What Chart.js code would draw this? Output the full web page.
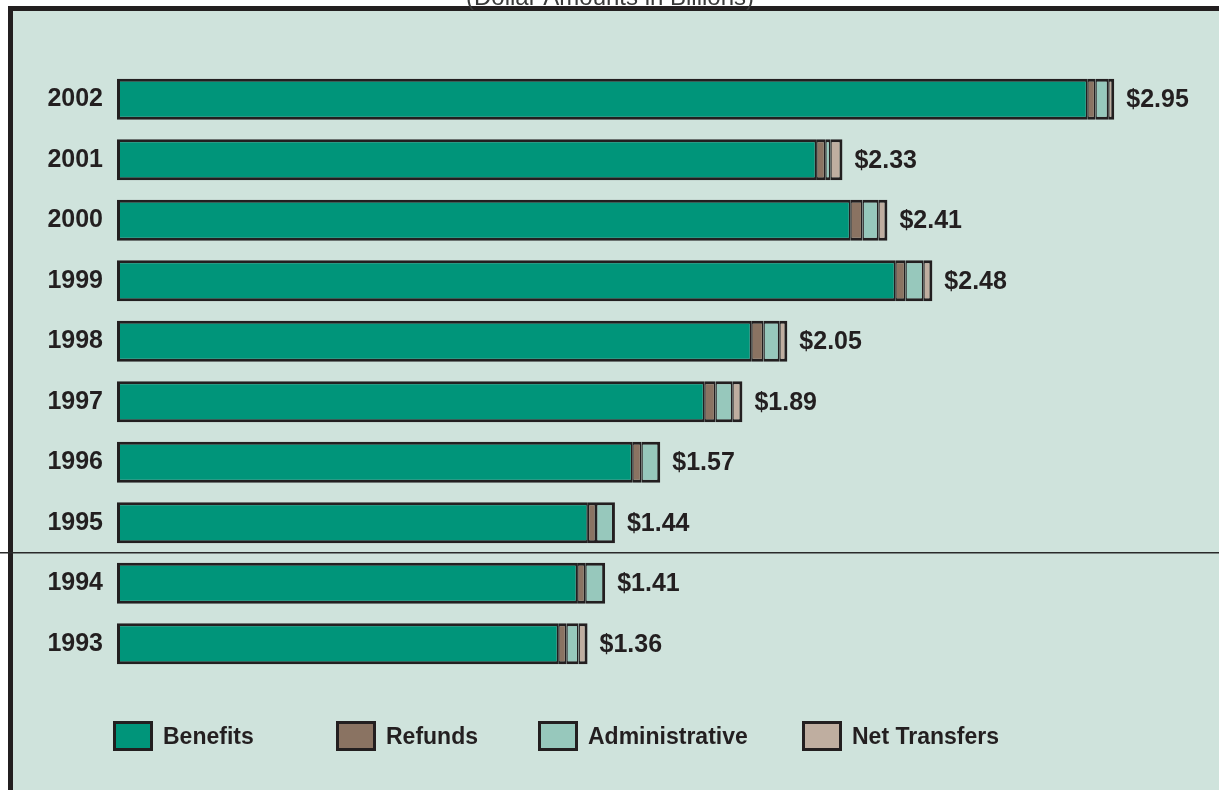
<!DOCTYPE html>
<html>
<head>
<meta charset="utf-8">
<script src="https://cdn.jsdelivr.net/npm/chart.js@4.4.0/dist/chart.umd.min.js"></script>
<style>
  html, body { margin: 0; padding: 0; background: #fff; }
  #wrap { position: relative; width: 1219px; height: 790px; overflow: hidden; }
  #main-chart { position: absolute; left: 0; top: 0; }
  .legend-item {
    position: absolute; top: 721px; height: 30px;
    display: flex; align-items: center;
    font: bold 23px "Liberation Sans", Arial, sans-serif; color: #231f20;
  }
  .legend-box { width: 34px; height: 24px; border: 3px solid #231f20; margin-right: 10px; }
</style>
</head>
<body>
<div id="wrap">
  <canvas id="main-chart" width="1219" height="790"></canvas>
  <div id="legend"></div>
</div>
<script>
(function () {
  "use strict";

  // values in $ billions
  const years = ["2002", "2001", "2000", "1999", "1998", "1997", "1996", "1995", "1994", "1993"];
  const benefits = [2.870, 2.068, 2.169, 2.302, 1.876, 1.737, 1.524, 1.393, 1.361, 1.305];
  const refunds = [0.024, 0.027, 0.036, 0.030, 0.036, 0.033, 0.027, 0.024, 0.024, 0.024];
  const administrative = [0.038, 0.015, 0.047, 0.053, 0.047, 0.050, 0.056, 0.056, 0.059, 0.036];
  const netTransfers = [0.018, 0.036, 0.027, 0.027, 0.024, 0.030, 0, 0, 0, 0.027];
  const totalLabels = ["$2.95", "$2.33", "$2.41", "$2.48", "$2.05", "$1.89", "$1.57", "$1.44", "$1.41", "$1.36"];
  const seriesNames = ["Benefits", "Refunds", "Administrative", "Net Transfers"];
  const seriesColors = ["#00957a", "#8a7362", "#97c8bc", "#bfaea0"];

  const FONT = '"Liberation Sans", Arial, sans-serif';
  const INK = "#231f20";
  const BG = "#cfe3dc";
  const legendLeft = [113, 336, 538, 802];

  const seriesData = [benefits, refunds, administrative, netTransfers];

  function isLastSegment(di, i) {
    for (let k = di + 1; k < seriesData.length; k++) {
      if (seriesData[k][i] > 0) return false;
    }
    return true;
  }

  const framePlugin = {
    id: "frame",
    beforeDraw(chart) {
      const c = chart.ctx;
      c.save();
      c.fillStyle = "#fff";
      c.fillRect(0, 0, chart.width, chart.height);
      c.fillStyle = INK;
      c.fillRect(8, 6, chart.width, chart.height);
      c.fillStyle = BG;
      c.fillRect(13, 11, chart.width, chart.height);
      c.fillStyle = "#3a3a3a";
      c.font = "24px " + FONT;
      c.textAlign = "center";
      c.textBaseline = "alphabetic";
      c.fillText("(Dollar Amounts in Billions)", 610, 5);
      c.restore();
    },
    afterDraw(chart) {
      const c = chart.ctx;
      c.save();
      c.fillStyle = "#2a2a2a";
      c.fillRect(0, 552, chart.width, 1.5);
      c.restore();
    },
  };

  const totalsPlugin = {
    id: "totals",
    afterDatasetsDraw(chart) {
      const c = chart.ctx;
      c.save();
      c.fillStyle = INK;
      c.font = "bold 25px " + FONT;
      c.textAlign = "left";
      c.textBaseline = "middle";
      years.forEach(function (y, i) {
        let right = 0;
        let mid = 0;
        chart.data.datasets.forEach(function (ds, di) {
          const bar = chart.getDatasetMeta(di).data[i];
          if (bar.x > right) right = bar.x;
          mid = bar.y;
        });
        c.fillText(totalLabels[i], right + 12, mid + 1);
      });
      c.restore();
    },
  };

  new Chart(document.getElementById("main-chart"), {
    type: "bar",
    data: {
      labels: years,
      datasets: seriesNames.map(function (name, di) {
        return {
          label: name,
          data: seriesData[di],
          backgroundColor: seriesColors[di],
          borderColor: INK,
          borderSkipped: false,
          borderWidth: function (ctx) {
            return {
              top: 3,
              bottom: 3,
              left: di === 0 ? 3 : 1.5,
              right: isLastSegment(di, ctx.dataIndex) ? 3 : 1.5,
            };
          },
          categoryPercentage: 1,
          barPercentage: 0.68,
        };
      }),
    },
    options: {
      indexAxis: "y",
      responsive: false,
      animation: false,
      layout: { padding: { top: 69, bottom: 116, left: 0, right: 98 } },
      plugins: {
        legend: { display: false },
        tooltip: { enabled: false },
      },
      scales: {
        x: { stacked: true, display: false, min: 0, max: 2.97 },
        y: {
          stacked: true,
          grid: { display: false },
          border: { display: false },
          ticks: {
            color: INK,
            padding: 6,
            font: { family: FONT, size: 25, weight: "bold" },
          },
          afterFit: function (scale) {
            scale.width = 117;
          },
        },
      },
    },
    plugins: [framePlugin, totalsPlugin],
  });

  document.getElementById("legend").innerHTML = seriesNames
    .map(function (name, i) {
      return (
        '<div class="legend-item" style="left:' + legendLeft[i] + 'px">' +
        '<div class="legend-box" style="background:' + seriesColors[i] + '"></div>' +
        name +
        "</div>"
      );
    })
    .join("");
})();
</script>
</body>
</html>
